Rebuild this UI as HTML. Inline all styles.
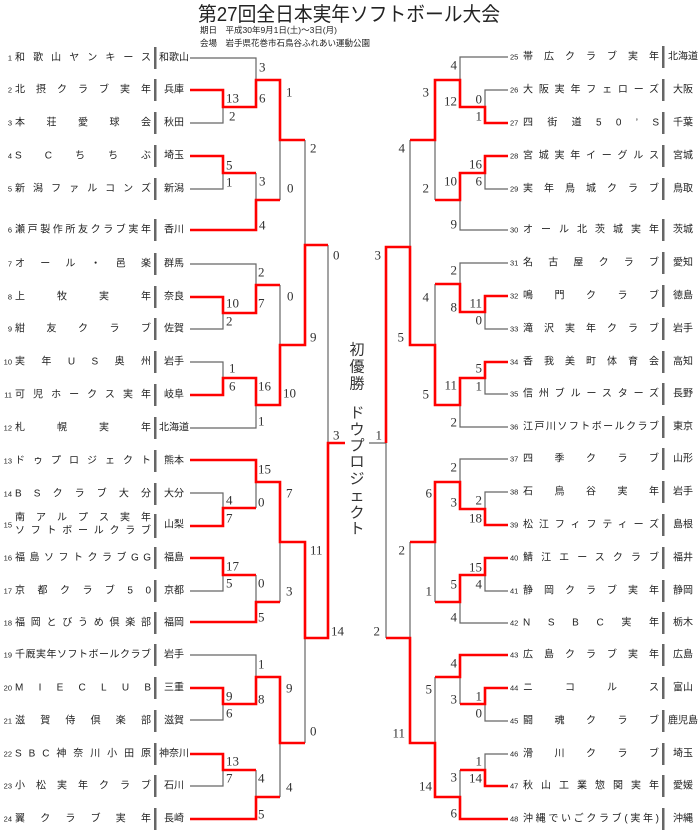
<!DOCTYPE html>
<html><head><meta charset="utf-8"><style>
html,body{margin:0;padding:0;background:#fff;}
svg{display:block;font-family:"Liberation Sans","Noto Sans CJK JP",sans-serif;}
.n{font-size:7.5px;fill:#222;}
.t{font-size:10px;fill:#222;}
.p{font-size:10px;fill:#222;}
.s{font-family:"Liberation Serif","Noto Serif CJK SC",serif;font-size:13px;fill:#333;}
.g{fill:none;stroke:#666;stroke-width:1.2;}
.r{fill:none;stroke:#f00;stroke-width:2.6;}
</style></head><body>
<svg width="700" height="839" viewBox="0 0 700 839" xmlns="http://www.w3.org/2000/svg">
<text x="198" y="21" style="font-size:20px;fill:#222;" textLength="302" lengthAdjust="spacingAndGlyphs">第27回全日本実年ソフトボール大会</text>
<text x="200" y="33" style="font-size:8.5px;fill:#222;">期日　平成30年9月1日(土)～3日(月)</text>
<text x="200" y="46" style="font-size:8.5px;fill:#222;">会場　岩手県花巻市石鳥谷ふれあい運動公園</text>

<!-- grey lines -->
<path class="g" d="M190,58H256V80 M190,123H223V107 M190,189H223V173 M256,173V200 M280,140V200 M305,140V245
M190,264H256V285 M190,329H223V313 M190,362H223V378 M190,428H256V405 M280,285V345
M328,245V443
M190,493H223V508 M256,482V508 M190,591H223V575 M256,575V602 M280,542V602
M190,655H256V677 M190,720H223V704 M190,786H223V770 M256,770V797 M280,743V797 M305,638V743
M369,443H386 M386,443V638
M508,57H460V80 M508,90H485V107 M508,189H485V173 M460,200V230H508 M435,140V200 M410,140V247
M508,263H460V284 M508,329H485V312 M508,394H485V378 M460,405V427H508 M435,284V345
M508,459H460V482 M508,492H485V509 M508,591H485V575 M460,602V623H508 M435,542V602 M410,542V638
M508,721H485V704 M460,677V704 M508,754H485V770 M460,770V797 M435,677V743"/>
<!-- red lines -->
<path class="r" d="M190,90H223V107H256V80H280V140H305 M190,156H223V173H256 M190,230H256V200H280
M190,297H223V313H256V285H280 M190,395H223V378H256V405H280V345H305V245H328
M190,460H256V482H280V542H305V638H328V443H345 M190,526H223V508H256 M190,558H223V575H256 M190,622H256V602H280
M190,688H223V704H256V677H280V743H305 M190,754H223V770H256 M190,819H256V797H280
M508,123H485V107H460V80H435V140H410 M508,156H485V173H460V200H435
M508,296H485V312H460V284H435 M508,362H485V378H460V405H435V345H410V247H386V443
M508,525H485V509H460V482H435V542H410 M508,558H485V575H460V602H435
M508,655H460V677H435 M508,688H485V704H460 M508,786H485V770H460 M508,819H460V797H435V743H410V638H386"/>

<!-- scores left -->
<g class="s" dominant-baseline="central">
<text x="259" y="67">3</text><text x="226" y="98">13</text><text x="259" y="98">6</text><text x="229" y="116">2</text>
<text x="286" y="92">1</text><text x="310" y="148">2</text><text x="226" y="165">5</text><text x="226" y="182">1</text>
<text x="259" y="181">3</text><text x="287" y="188">0</text><text x="259" y="225">4</text>
<text x="258" y="272">2</text><text x="226" y="303">10</text><text x="258" y="303">7</text><text x="226" y="321">2</text>
<text x="287" y="296">0</text><text x="310" y="337">9</text><text x="229" y="368">1</text><text x="229" y="386">6</text>
<text x="258" y="386">16</text><text x="283" y="393">10</text><text x="258" y="421">1</text><text x="333" y="255">0</text>
<text x="333" y="435">3</text>
<text x="258" y="469">15</text><text x="226" y="500">4</text><text x="258" y="502">0</text><text x="226" y="518">7</text>
<text x="286" y="493">7</text><text x="226" y="566">17</text><text x="226" y="583">5</text><text x="258" y="583">0</text>
<text x="286" y="591">3</text><text x="258" y="617">5</text><text x="310" y="550">11</text><text x="331" y="631">14</text>
<text x="258" y="664">1</text><text x="226" y="696">9</text><text x="258" y="699">8</text><text x="226" y="713">6</text>
<text x="286" y="688">9</text><text x="310" y="731">0</text><text x="226" y="761">13</text><text x="226" y="778">7</text>
<text x="258" y="778">4</text><text x="286" y="787">4</text><text x="258" y="814">5</text>
</g>
<!-- scores right -->
<g class="s" dominant-baseline="central" text-anchor="end">
<text x="457" y="65">4</text><text x="429" y="92">3</text><text x="457" y="101">12</text><text x="482" y="99">0</text>
<text x="482" y="116">1</text><text x="482" y="164">16</text><text x="482" y="181">6</text><text x="457" y="181">10</text>
<text x="429" y="188">2</text><text x="457" y="224">9</text><text x="405" y="148">4</text><text x="381" y="255">3</text>
<text x="457" y="270">2</text><text x="429" y="297">4</text><text x="457" y="307">8</text><text x="482" y="303">11</text>
<text x="482" y="320">0</text><text x="404" y="337">5</text><text x="482" y="368">5</text><text x="482" y="386">1</text>
<text x="457" y="385">11</text><text x="429" y="394">5</text><text x="457" y="422">2</text><text x="382" y="435">1</text>
<text x="457" y="467">2</text><text x="432" y="493">6</text><text x="457" y="502">3</text><text x="482" y="500">2</text>
<text x="482" y="518">18</text><text x="405" y="550">2</text><text x="482" y="567">15</text><text x="457" y="584">5</text>
<text x="482" y="584">4</text><text x="432" y="591">1</text><text x="457" y="617">4</text><text x="380" y="631">2</text>
<text x="457" y="663">4</text><text x="432" y="689">5</text><text x="457" y="699">3</text><text x="482" y="696">1</text>
<text x="482" y="713">0</text><text x="405" y="733">11</text><text x="482" y="761">1</text><text x="482" y="778">14</text>
<text x="457" y="777">3</text><text x="432" y="786">14</text><text x="457" y="813">6</text>
</g>

<!-- center vertical text -->
<g style="font-size:15px;fill:#333;" text-anchor="middle" dominant-baseline="central">
<text x="357" y="350">初</text><text x="357" y="367">優</text><text x="357" y="384">勝</text>
<text x="357" y="413">ド</text><text x="357" y="430">ウ</text><text x="357" y="446">プ</text><text x="357" y="462">ロ</text>
<text x="357" y="479">ジ</text><text x="357" y="496">ェ</text><text x="357" y="513">ク</text><text x="357" y="529">ト</text>
</g>

<!-- left teams -->
<g fill="#666">
<rect x="154" y="47" width="2.5" height="22"/><rect x="154" y="79" width="2.5" height="22"/><rect x="154" y="112" width="2.5" height="22"/>
<rect x="154" y="145" width="2.5" height="22"/><rect x="154" y="178" width="2.5" height="22"/><rect x="154" y="219" width="2.5" height="22"/>
<rect x="154" y="253" width="2.5" height="22"/><rect x="154" y="286" width="2.5" height="22"/><rect x="154" y="318" width="2.5" height="22"/>
<rect x="154" y="351" width="2.5" height="22"/><rect x="154" y="384" width="2.5" height="22"/><rect x="154" y="417" width="2.5" height="22"/>
<rect x="154" y="450" width="2.5" height="22"/><rect x="154" y="483" width="2.5" height="22"/><rect x="154" y="514" width="2.5" height="24"/>
<rect x="154" y="547" width="2.5" height="22"/><rect x="154" y="580" width="2.5" height="22"/><rect x="154" y="612" width="2.5" height="22"/>
<rect x="154" y="644" width="2.5" height="22"/><rect x="154" y="677" width="2.5" height="22"/><rect x="154" y="710" width="2.5" height="22"/>
<rect x="154" y="743" width="2.5" height="22"/><rect x="154" y="775" width="2.5" height="22"/><rect x="154" y="808" width="2.5" height="22"/>
<rect x="662" y="46" width="2.5" height="22"/><rect x="662" y="79" width="2.5" height="22"/><rect x="662" y="112" width="2.5" height="22"/>
<rect x="662" y="145" width="2.5" height="22"/><rect x="662" y="178" width="2.5" height="22"/><rect x="662" y="219" width="2.5" height="22"/>
<rect x="662" y="252" width="2.5" height="22"/><rect x="662" y="285" width="2.5" height="22"/><rect x="662" y="318" width="2.5" height="22"/>
<rect x="662" y="351" width="2.5" height="22"/><rect x="662" y="383" width="2.5" height="22"/><rect x="662" y="416" width="2.5" height="22"/>
<rect x="662" y="448" width="2.5" height="22"/><rect x="662" y="481" width="2.5" height="22"/><rect x="662" y="514" width="2.5" height="22"/>
<rect x="662" y="547" width="2.5" height="22"/><rect x="662" y="580" width="2.5" height="22"/><rect x="662" y="612" width="2.5" height="22"/>
<rect x="662" y="644" width="2.5" height="22"/><rect x="662" y="677" width="2.5" height="22"/><rect x="662" y="710" width="2.5" height="22"/>
<rect x="662" y="743" width="2.5" height="22"/><rect x="662" y="775" width="2.5" height="22"/><rect x="662" y="808" width="2.5" height="22"/>
</g>

<g dominant-baseline="central">
<g class="n" text-anchor="end">
<text x="12" y="58">1</text><text x="12" y="90">2</text><text x="12" y="123">3</text><text x="12" y="156">4</text>
<text x="12" y="189">5</text><text x="12" y="230">6</text><text x="12" y="264">7</text><text x="12" y="297">8</text>
<text x="12" y="329">9</text><text x="12" y="362">10</text><text x="12" y="395">11</text><text x="12" y="428">12</text>
<text x="12" y="461">13</text><text x="12" y="494">14</text><text x="12" y="525">15</text><text x="12" y="558">16</text>
<text x="12" y="591">17</text><text x="12" y="623">18</text><text x="12" y="655">19</text><text x="12" y="688">20</text>
<text x="12" y="721">21</text><text x="12" y="754">22</text><text x="12" y="786">23</text><text x="12" y="819">24</text>
</g>
<g class="t" lengthAdjust="spacing">
<text x="15" y="58" textLength="136">和歌山ヤンキース</text>
<text x="15" y="90" textLength="136">北摂クラブ実年</text>
<text x="15" y="123" textLength="136">本荘愛球会</text>
<text x="15" y="156" textLength="136">SCちちぶ</text>
<text x="15" y="189" textLength="136">新潟ファルコンズ</text>
<text x="15" y="230" textLength="136">瀬戸製作所友クラブ実年</text>
<text x="15" y="264" textLength="136">オール・邑楽</text>
<text x="15" y="297" textLength="136">上牧実年</text>
<text x="15" y="329" textLength="136">紺友クラブ</text>
<text x="15" y="362" textLength="136">実年US奥州</text>
<text x="15" y="395" textLength="136">可児ホークス実年</text>
<text x="15" y="428" textLength="136">札幌実年</text>
<text x="15" y="461" textLength="136">ドゥプロジェクト</text>
<text x="15" y="494" textLength="136">BSクラブ大分</text>
<text x="15" y="518" textLength="136">南アルプス実年</text>
<text x="15" y="531" textLength="136">ソフトボールクラブ</text>
<text x="15" y="558" textLength="136">福島ソフトクラブGG</text>
<text x="15" y="591" textLength="136">京都クラブ50</text>
<text x="15" y="623" textLength="136">福岡とびうめ倶楽部</text>
<text x="15" y="655" textLength="136">千厩実年ソフトボールクラブ</text>
<text x="15" y="688" textLength="136">MIECLUB</text>
<text x="15" y="721" textLength="136">滋賀侍倶楽部</text>
<text x="15" y="754" textLength="136">SBC神奈川小田原</text>
<text x="15" y="786" textLength="136">小松実年クラブ</text>
<text x="15" y="819" textLength="136">翼クラブ実年</text>
</g>
<g class="p" text-anchor="middle">
<text x="174" y="58">和歌山</text><text x="174" y="90">兵庫</text><text x="174" y="123">秋田</text><text x="174" y="156">埼玉</text>
<text x="174" y="189">新潟</text><text x="174" y="230">香川</text><text x="174" y="264">群馬</text><text x="174" y="297">奈良</text>
<text x="174" y="329">佐賀</text><text x="174" y="362">岩手</text><text x="174" y="395">岐阜</text><text x="174" y="428">北海道</text>
<text x="174" y="461">熊本</text><text x="174" y="494">大分</text><text x="174" y="525">山梨</text><text x="174" y="558">福島</text>
<text x="174" y="591">京都</text><text x="174" y="623">福岡</text><text x="174" y="655">岩手</text><text x="174" y="688">三重</text>
<text x="174" y="721">滋賀</text><text x="174" y="754">神奈川</text><text x="174" y="786">石川</text><text x="174" y="819">長崎</text>
</g>

<g class="n">
<text x="510" y="57">25</text><text x="510" y="90">26</text><text x="510" y="123">27</text><text x="510" y="156">28</text>
<text x="510" y="189">29</text><text x="510" y="230">30</text><text x="510" y="263">31</text><text x="510" y="296">32</text>
<text x="510" y="329">33</text><text x="510" y="362">34</text><text x="510" y="394">35</text><text x="510" y="427">36</text>
<text x="510" y="459">37</text><text x="510" y="492">38</text><text x="510" y="525">39</text><text x="510" y="558">40</text>
<text x="510" y="591">41</text><text x="510" y="623">42</text><text x="510" y="655">43</text><text x="510" y="688">44</text>
<text x="510" y="721">45</text><text x="510" y="754">46</text><text x="510" y="786">47</text><text x="510" y="819">48</text>
</g>
<g class="t" lengthAdjust="spacing">
<text x="523" y="57" textLength="136">帯広クラブ実年</text>
<text x="523" y="90" textLength="136">大阪実年フェローズ</text>
<text x="523" y="123" textLength="136">四街道50’S</text>
<text x="523" y="156" textLength="136">宮城実年イーグルス</text>
<text x="523" y="189" textLength="136">実年鳥城クラブ</text>
<text x="523" y="230" textLength="136">オール北茨城実年</text>
<text x="523" y="263" textLength="136">名古屋クラブ</text>
<text x="523" y="296" textLength="136">鳴門クラブ</text>
<text x="523" y="329" textLength="136">滝沢実年クラブ</text>
<text x="523" y="362" textLength="136">香我美町体育会</text>
<text x="523" y="394" textLength="136">信州ブルースターズ</text>
<text x="523" y="427" textLength="136">江戸川ソフトボールクラブ</text>
<text x="523" y="459" textLength="136">四季クラブ</text>
<text x="523" y="492" textLength="136">石鳥谷実年</text>
<text x="523" y="525" textLength="136">松江フィフティーズ</text>
<text x="523" y="558" textLength="136">鯖江エースクラブ</text>
<text x="523" y="591" textLength="136">静岡クラブ実年</text>
<text x="523" y="623" textLength="136">NSBC実年</text>
<text x="523" y="655" textLength="136">広島クラブ実年</text>
<text x="523" y="688" textLength="136">ニコルス</text>
<text x="523" y="721" textLength="136">闘魂クラブ</text>
<text x="523" y="754" textLength="136">滑川クラブ</text>
<text x="523" y="786" textLength="136">秋山工業惣関実年</text>
<text x="523" y="819" textLength="136">沖縄でいごクラブ(実年)</text>
</g>
<g class="p" text-anchor="middle">
<text x="683" y="57">北海道</text><text x="683" y="90">大阪</text><text x="683" y="123">千葉</text><text x="683" y="156">宮城</text>
<text x="683" y="189">鳥取</text><text x="683" y="230">茨城</text><text x="683" y="263">愛知</text><text x="683" y="296">徳島</text>
<text x="683" y="329">岩手</text><text x="683" y="362">高知</text><text x="683" y="394">長野</text><text x="683" y="427">東京</text>
<text x="683" y="459">山形</text><text x="683" y="492">岩手</text><text x="683" y="525">島根</text><text x="683" y="558">福井</text>
<text x="683" y="591">静岡</text><text x="683" y="623">栃木</text><text x="683" y="655">広島</text><text x="683" y="688">富山</text>
<text x="683" y="721">鹿児島</text><text x="683" y="754">埼玉</text><text x="683" y="786">愛媛</text><text x="683" y="819">沖縄</text>
</g>
</g>
</svg>
</body></html>
